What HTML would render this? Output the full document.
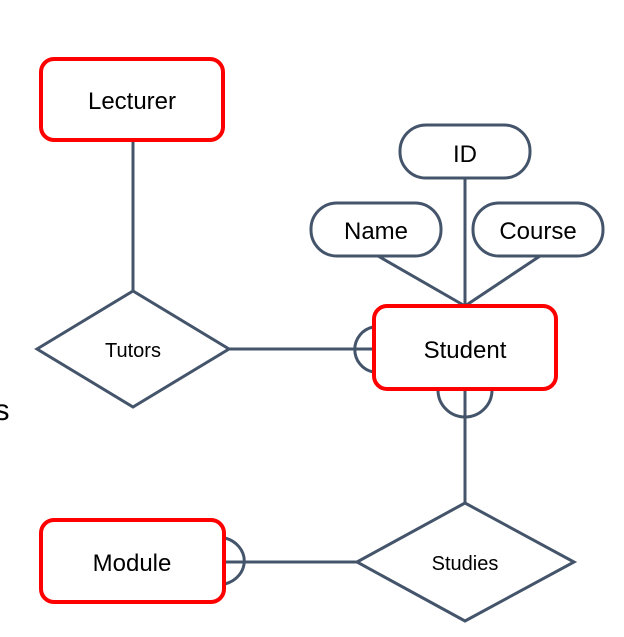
<!DOCTYPE html>
<html><head><style>
html,body{margin:0;padding:0;background:#fff;}
</style></head><body>
<svg width="624" height="637" viewBox="0 0 624 637" xmlns="http://www.w3.org/2000/svg" style="display:block">
<g stroke="#44546a" stroke-width="3" fill="none">
<line x1="133" y1="141" x2="133" y2="291"/>
<line x1="229" y1="349" x2="373" y2="349"/>
<line x1="465" y1="178" x2="465" y2="306"/>
<line x1="378" y1="256" x2="465" y2="306"/>
<line x1="540" y1="256" x2="465" y2="306"/>
<line x1="465" y1="390" x2="465" y2="503"/>
<line x1="225" y1="562" x2="357" y2="562"/>
<path d="M373 327 A23 23 0 0 0 373 372"/>
<path d="M438 390 A27 27 0 0 0 492 390"/>
<path d="M225 538 A27 24 0 0 1 225 584"/>
<polygon points="37,349 133,291 229,349 133,407" fill="#fff"/>
<polygon points="357,562 465,503 574,562 465,621" fill="#fff"/>
<rect x="400" y="125" width="130" height="53" rx="26" fill="#fff"/>
<rect x="311" y="203" width="130" height="53" rx="26" fill="#fff"/>
<rect x="473" y="203" width="130" height="53" rx="26" fill="#fff"/>
</g>
<g stroke="#f00" stroke-width="4" fill="#fff">
<rect x="41" y="59" width="182" height="81" rx="13"/>
<rect x="374" y="306" width="182" height="83" rx="13"/>
<rect x="41" y="520" width="183" height="82" rx="13"/>
</g>
<g font-family="Liberation Sans, sans-serif" fill="#000" text-anchor="middle">
<text x="132" y="109" font-size="24">Lecturer</text>
<text x="465" y="358" font-size="24">Student</text>
<text x="132" y="571" font-size="24">Module</text>
<text x="465" y="162" font-size="24">ID</text>
<text x="376" y="239" font-size="24">Name</text>
<text x="538" y="239" font-size="24">Course</text>
<text x="133" y="357" font-size="20">Tutors</text>
<text x="465" y="570" font-size="20">Studies</text>
<text x="2" y="420" font-size="30">s</text>
</g>
</svg>
</body></html>
